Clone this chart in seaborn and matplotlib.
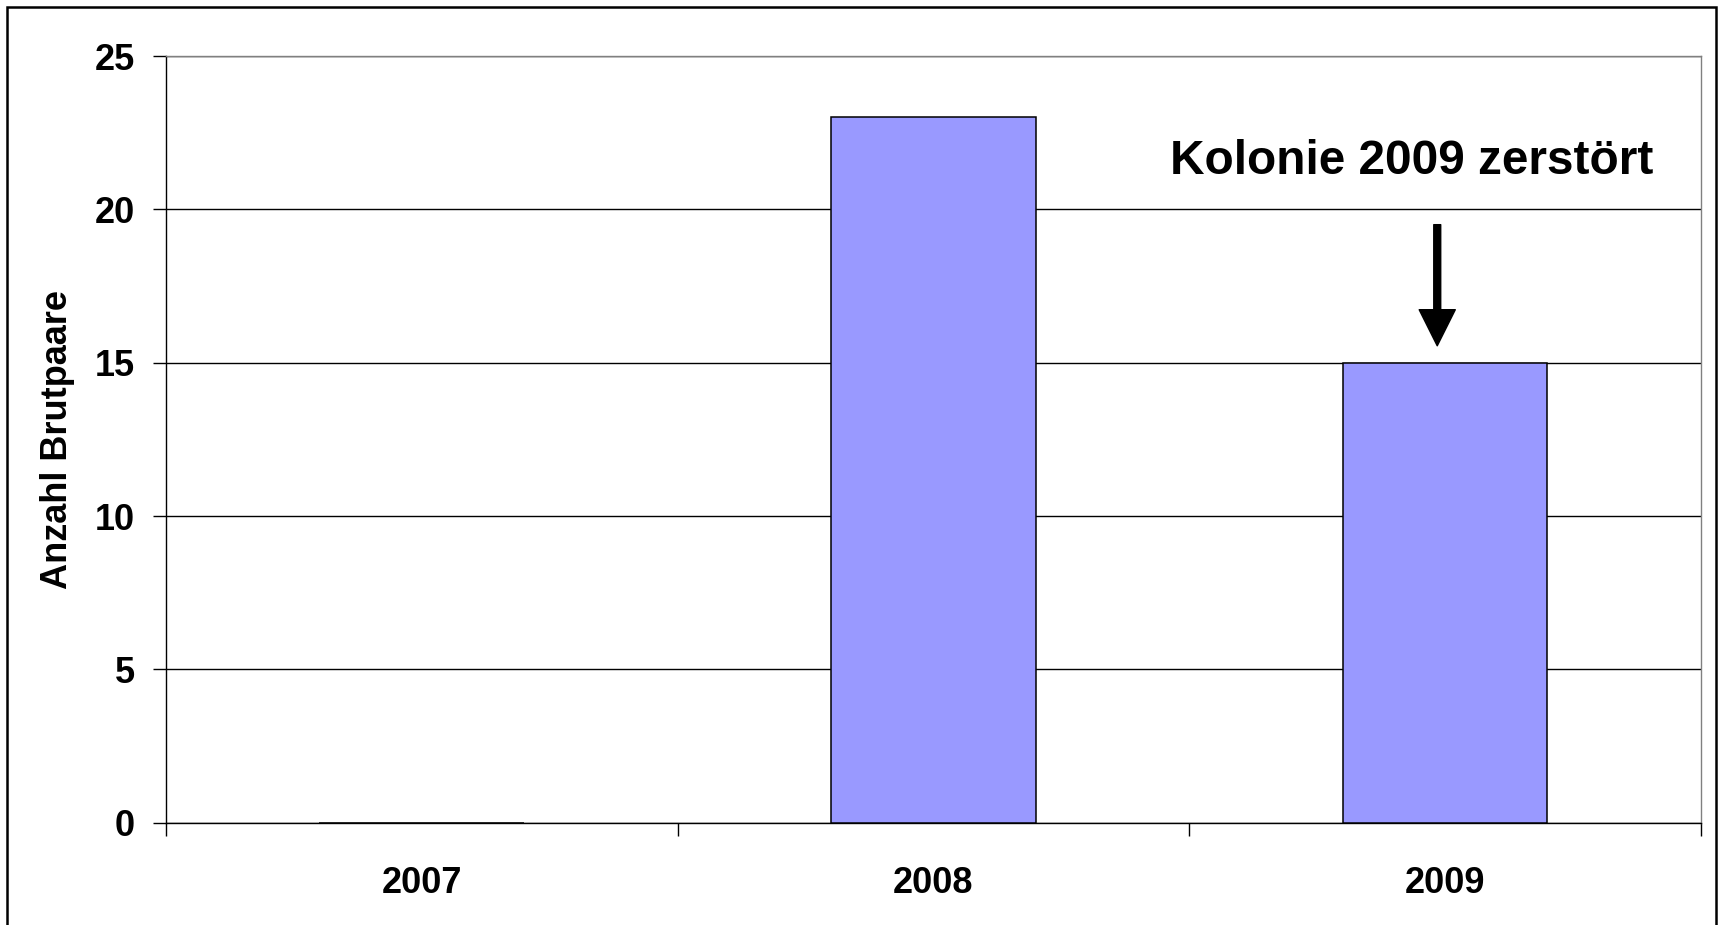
import matplotlib
matplotlib.use("Agg")
import matplotlib.pyplot as plt
import seaborn as sns
import pandas as pd
from matplotlib.patches import Rectangle

years = ["2007", "2008", "2009"]
pairs = [0, 23, 15]
y_ticks = [0, 5, 10, 15, 20, 25]
y_label = "Anzahl Brutpaare"
note = "Kolonie 2009 zerstört"

sns.set_theme(style="white")
plt.rcParams['font.family'] = ['Liberation Sans', 'DejaVu Sans']
plt.rcParams['font.weight'] = 'bold'
plt.rcParams['text.color'] = 'black'
plt.rcParams['axes.labelcolor'] = 'black'
plt.rcParams['xtick.color'] = 'black'
plt.rcParams['ytick.color'] = 'black'

df = pd.DataFrame({"year": years, "pairs": pairs})

fig = plt.figure(figsize=(17.22, 9.25), dpi=100)
ax = fig.add_axes([166/1722, 1-822.7/925, (1700.7-166)/1722, (822.7-56)/925])

sns.barplot(data=df, x="year", y="pairs", color="#9999FF", saturation=1,
            width=0.4, edgecolor="black", linewidth=1.1, ax=ax, zorder=3)

ax.set_ylim(0, 25)
ax.set_xlim(-0.5, 2.5)
ax.set_yticks(y_ticks)
ax.yaxis.grid(True, color="black", linewidth=1.0, zorder=0)
ax.set_axisbelow(True)
ax.set_xticks([-0.5, 0.5, 1.5, 2.5], minor=False)
ax.set_xticklabels([])
ax.set_xticks([0, 1, 2], minor=True)
ax.set_xticklabels(years, minor=True, fontsize=26, fontweight="bold", color="black")
ax.tick_params(axis="x", which="major", direction="out", length=9.4, width=1.0, color="black", bottom=True)
ax.tick_params(axis="x", which="minor", length=0, pad=31.5, bottom=True, labelcolor="black")
ax.tick_params(axis="y", direction="out", length=9.4, width=1.0, color="black", left=True, pad=13,
               labelsize=26, labelcolor="black")
for lab in ax.get_yticklabels():
    lab.set_fontweight("bold")
ax.set_xlabel("")
ax.set_ylabel(y_label, fontsize=26, fontweight="bold", color="black")
ax.yaxis.set_label_coords((75-166)/(1700.7-166), 0.5)

for s in ["left", "bottom"]:
    ax.spines[s].set_color("black")
    ax.spines[s].set_linewidth(1.0)
for s in ["top", "right"]:
    ax.spines[s].set_color("#808080")
    ax.spines[s].set_linewidth(1.0)

ax.text(1.935, 21.57, note, fontsize=34.4, fontweight="bold", ha="center", va="center",
        color="black", zorder=5)
ax.annotate("", xy=(1.985, 15.55), xytext=(1.985, 19.5),
            arrowprops=dict(facecolor="black", edgecolor="black", width=5, headwidth=26, headlength=26),
            zorder=5)

fig.patches.append(Rectangle((7/1722, -0.01), (1716-7)/1722, 1-7/925+0.01,
                             transform=fig.transFigure, fill=False,
                             edgecolor="black", linewidth=1.8))

fig.savefig("out.png", dpi=100, facecolor="white")
